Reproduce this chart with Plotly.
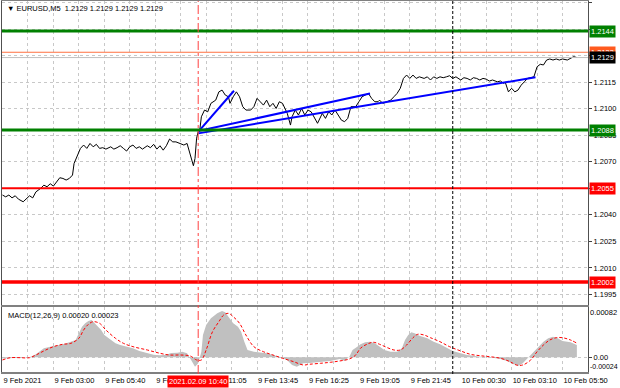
import plotly.graph_objects as go

# ---------------- data ----------------
symbol_title = "▼ EURUSD,M5  1.2129 1.2129 1.2129 1.2129"
macd_title = "MACD(12,26,9) 0.00020 0.00023"

bar_idx = [0, 2, 4, 6, 8, 10, 13, 15, 17, 19,
           21, 24, 26, 28, 30, 32, 34, 36, 38, 40,
           42, 44, 45, 47, 49, 51, 53, 55, 57, 59,
           61, 63, 65, 68, 70, 72, 74, 76, 78, 80,
           82, 84, 86, 88, 91, 93, 95, 97, 99, 101,
           103, 105, 107, 109, 112, 114, 116, 118, 120, 121,
           122, 123, 124, 125, 127, 129, 131, 134, 136, 138,
           140, 142, 143, 145, 147, 149, 151, 153, 156, 158,
           160, 162, 164, 166, 168, 170, 172, 174, 176, 179,
           181, 182, 184, 186, 188, 190, 192, 194, 196, 198,
           201, 203, 205, 207, 209, 211, 213, 215, 217, 219,
           222, 224, 226, 228, 230, 232, 234, 236, 237, 239,
           241, 244, 246, 248, 250, 252, 254, 256, 258, 260,
           262, 265, 267, 269, 271, 273, 275, 277, 279, 281,
           283, 285, 288, 290, 292, 294, 296, 298, 300, 302,
           304, 306, 308, 311, 313, 315, 316, 318, 320, 322,
           324, 326, 328, 330, 334, 336, 338, 340, 342, 344,
           346, 348, 350, 352, 355, 357, 359, 361]

close = [1.20512, 1.20502, 1.20512, 1.20496, 1.20508, 1.20489, 1.20474, 1.20489, 1.20508, 1.20496,
         1.20530, 1.20550, 1.20568, 1.20559, 1.20576, 1.20563, 1.20587, 1.20610, 1.20606, 1.20597,
         1.20606, 1.20625, 1.20691, 1.20729, 1.20776, 1.20795, 1.20776, 1.20804, 1.20785, 1.20799,
         1.20776, 1.20780, 1.20772, 1.20785, 1.20772, 1.20780, 1.20791, 1.20776, 1.20761, 1.20785,
         1.20795, 1.20776, 1.20785, 1.20772, 1.20791, 1.20780, 1.20799, 1.20772, 1.20791, 1.20766,
         1.20791, 1.20829, 1.20813, 1.20813, 1.20804, 1.20795, 1.20804, 1.20738, 1.20678, 1.20719,
         1.20834, 1.20870, 1.20880, 1.20955, 1.20993, 1.20983, 1.21031, 1.21049, 1.21096, 1.21106,
         1.21078, 1.21068, 1.21031, 1.21068, 1.21096, 1.21068, 1.21012, 1.20993, 1.20993, 1.21012,
         1.21059, 1.21040, 1.21021, 1.21049, 1.21012, 1.21031, 1.21002, 1.21040, 1.21031, 1.20974,
         1.20908, 1.20955, 1.20993, 1.20965, 1.21002, 1.20965, 1.20993, 1.20983, 1.20946, 1.20918,
         1.20974, 1.20946, 1.20983, 1.20965, 1.20993, 1.20965, 1.20936, 1.20927, 1.20946, 1.21012,
         1.21012, 1.21040, 1.21068, 1.21078, 1.21087, 1.21059, 1.21040, 1.21040, 1.21049, 1.21031,
         1.21040, 1.21049, 1.21068, 1.21087, 1.21116, 1.21172, 1.21191, 1.21172, 1.21191, 1.21172,
         1.21181, 1.21172, 1.21181, 1.21163, 1.21181, 1.21172, 1.21181, 1.21176, 1.21181, 1.21187,
         1.21172, 1.21181, 1.21163, 1.21176, 1.21172, 1.21163, 1.21176, 1.21172, 1.21163, 1.21172,
         1.21168, 1.21157, 1.21163, 1.21153, 1.21157, 1.21144, 1.21150, 1.21096, 1.21116, 1.21096,
         1.21106, 1.21134, 1.21153, 1.21172, 1.21181, 1.21238, 1.21252, 1.21248, 1.21276, 1.21282,
         1.21276, 1.21282, 1.21276, 1.21282, 1.21276, 1.21286, 1.21295, 1.21290]

hist_bars = [0, 11, 17, 21, 26, 30, 34, 38, 42, 46,
             48, 50, 52, 54, 56, 58, 60, 62, 64, 68,
             71, 74, 78, 82, 86, 91, 95, 99, 103, 106,
             110, 113, 116, 118, 120, 121, 123, 125, 126, 128,
             131, 135, 138, 140, 142, 145, 148, 150, 152, 154,
             158, 162, 166, 170, 174, 179, 182, 185, 189, 193,
             200, 206, 212, 215, 218, 220, 223, 225, 228, 231,
             234, 237, 240, 244, 248, 251, 253, 255, 257, 259,
             262, 267, 271, 275, 279, 283, 288, 292, 296, 300,
             304, 308, 313, 317, 321, 324, 327, 330, 334, 337,
             340, 343, 346, 349, 352, 357, 361]
hist_vals = [-2e-5, -1e-5, 0.0, 4.9e-5, 14.7e-5, 17.3e-5, 18.9e-5, 21.2e-5, 24.5e-5, 28.2e-5,
             39.1e-5, 49.9e-5, 55.4e-5, 59.2e-5, 60.8e-5, 55.4e-5, 49.9e-5, 44.5e-5, 36.3e-5, 28.2e-5,
             22.8e-5, 20.0e-5, 17.3e-5, 14.7e-5, 10.3e-5, 7.0e-5, 4.2e-5, 3.3e-5, 4.2e-5, 7.0e-5,
             7.5e-5, 9.1e-5, 6.5e-5, -2.1e-5, -12.6e-5, -15.3e-5, -9.8e-5, 9.1e-5, 36.3e-5, 52.6e-5,
             63.6e-5, 71.7e-5, 75.5e-5, 73.4e-5, 66.2e-5, 55.4e-5, 49.9e-5, 41.7e-5, 25.4e-5, 11.9e-5,
             9.1e-5, 8.2e-5, 6.5e-5, 3.7e-5, 1.0e-5, -4.9e-5, -12.6e-5, -15.3e-5, -9.8e-5, -9.5e-5,
             -8.2e-5, -6.0e-5, -2.8e-5, -6.0e-5, 1.0e-5, 11.9e-5, 17.3e-5, 21.2e-5, 24.5e-5, 25.4e-5,
             22.8e-5, 17.3e-5, 11.9e-5, 9.1e-5, 9.1e-5, 14.7e-5, 28.2e-5, 36.3e-5, 40.8e-5, 39.1e-5,
             35.2e-5, 31.0e-5, 25.4e-5, 21.2e-5, 15.6e-5, 10.3e-5, 6.5e-5, 3.7e-5, 2.6e-5, 1.0e-5,
             1.0e-5, -0.7e-5, -2.8e-5, -6.0e-5, -11.4e-5, -14.2e-5, -9.8e-5, -1.6e-5, 9.1e-5, 17.3e-5,
             25.4e-5, 31.0e-5, 33.6e-5, 31.0e-5, 26.6e-5, 24.5e-5, 20.0e-5]

signal_bars = [0, 5, 11, 17, 21, 26, 32, 38, 43, 48,
               51, 54, 57, 61, 65, 71, 76, 82, 91, 99,
               105, 112, 118, 122, 125, 128, 132, 136, 139, 142,
               145, 149, 153, 158, 164, 170, 176, 183, 189, 193,
               200, 206, 212, 218, 222, 225, 229, 233, 237, 242,
               246, 250, 254, 258, 261, 265, 269, 275, 281, 288,
               294, 300, 306, 313, 319, 323, 327, 332, 336, 340,
               344, 348, 352, 357, 361]
signal_vals = [-4.4e-5, -0.7e-5, -0.7e-5, -0.7e-5, 3.7e-5, 10.3e-5, 17.3e-5, 21.2e-5, 22.8e-5, 31.0e-5,
               44.5e-5, 53.8e-5, 58.0e-5, 55.4e-5, 44.5e-5, 31.0e-5, 22.8e-5, 17.3e-5, 11.9e-5, 6.5e-5,
               3.7e-5, 3.7e-5, 2.1e-5, -4.4e-5, -4.4e-5, 11.9e-5, 41.7e-5, 58.0e-5, 68.9e-5, 71.7e-5,
               66.2e-5, 55.4e-5, 36.3e-5, 17.3e-5, 9.1e-5, 3.7e-5, -1.6e-5, -7.2e-5, -12.6e-5, -11.4e-5,
               -9.8e-5, -8.2e-5, -6.0e-5, -2.8e-5, 3.7e-5, 14.7e-5, 21.2e-5, 24.5e-5, 21.2e-5, 15.6e-5,
               11.9e-5, 11.9e-5, 20.0e-5, 31.9e-5, 37.5e-5, 36.3e-5, 31.9e-5, 25.4e-5, 17.3e-5, 10.3e-5,
               4.9e-5, 2.6e-5, 1.0e-5, -1.6e-5, -7.2e-5, -12.6e-5, -12.6e-5, -4.4e-5, 9.1e-5, 20.0e-5,
               28.2e-5, 31.9e-5, 31.9e-5, 28.2e-5, 23.0e-5]

# trend lines: (start bar, end bar), (start price, end price)
trend_bars = [[123, 145.5], [123, 231], [123, 335]]
trend_prices = [[1.20870, 1.21102], [1.20874, 1.21087], [1.20861, 1.21178]]

# horizontal levels
green_levels = [1.2144, 1.2088]
red_levels = [1.2055, 1.2002]
red_widths = [2, 3.5]
orange_level = 1.2132
bid_level = 1.2129

# time axis labels (every 32 bars) and grid every 16 bars
label_bars = [0, 32, 64, 96, 128, 160, 192, 224, 256, 288, 320, 352]
label_text = ["9 Feb 2021", "9 Feb 03:00", "9 Feb 05:40", "9 Feb 08:20", "9 Feb 11:05",
              "9 Feb 13:45", "9 Feb 16:25", "9 Feb 19:05", "9 Feb 21:45", "10 Feb 00:30",
              "10 Feb 03:10", "10 Feb 05:50"]
price_ticks = [1.1995, 1.2010, 1.2025, 1.2040, 1.2055, 1.2070, 1.2085,
               1.2100, 1.2115, 1.2130, 1.2145, 1.2160]
# tick labels hidden under the level boxes in the terminal
hidden_ticks = [1.2055, 1.2130, 1.2145]
macd_max, macd_min = 0.00082, -0.00024
macd_max_text, macd_min_text = "0.00082", "-0.00024"

cursor_bar = 123
cursor_label = "2021.02.09 10:40"
day_sep_bar = 283

# ---------------- figure ----------------
FONT = "Liberation Sans"
FS = 7.5
GRID = "#c8c8c8"

grid_bars = list(range(0, 369, 16))
grid_text = []
for b in grid_bars:
    grid_text.append(label_text[label_bars.index(b)] if b in label_bars else "")
price_text = ["" if v in hidden_ticks else f"{v:.4f}" for v in price_ticks]

fig = go.Figure()

fig.add_trace(go.Scatter(x=hist_bars, y=hist_vals, mode="lines", fill="tozeroy",
                         fillcolor="#c0c0c0", line=dict(width=0, color="#c0c0c0"),
                         xaxis="x2", yaxis="y2", hoverinfo="skip"))
fig.add_trace(go.Scatter(x=signal_bars, y=signal_vals, mode="lines",
                         line=dict(color="#ff0000", width=1, dash="3px,2px", shape="spline"),
                         xaxis="x2", yaxis="y2", hoverinfo="skip"))

fig.add_trace(go.Scatter(x=bar_idx, y=close, mode="lines",
                         line=dict(color="#000000", width=1), hoverinfo="skip"))
for bx, py in zip(trend_bars, trend_prices):
    fig.add_trace(go.Scatter(x=bx, y=py, mode="lines",
                             line=dict(color="#0000ff", width=2), hoverinfo="skip"))

shapes = []
for lv in green_levels:
    shapes.append(dict(type="line", xref="x domain", yref="y", x0=0, x1=1, y0=lv, y1=lv,
                       line=dict(color="#008000", width=3)))
for lv, w in zip(red_levels, red_widths):
    shapes.append(dict(type="line", xref="x domain", yref="y", x0=0, x1=1, y0=lv, y1=lv,
                       line=dict(color="#ff0000", width=w)))
shapes.append(dict(type="line", xref="x domain", yref="y", x0=0, x1=1, y0=orange_level,
                   y1=orange_level, line=dict(color="#ff7040", width=1)))
shapes.append(dict(type="line", xref="x domain", yref="y", x0=0, x1=1, y0=bid_level,
                   y1=bid_level, line=dict(color="#c0c0c0", width=1)))
shapes.append(dict(type="line", xref="x", yref="paper", x0=cursor_bar, x1=cursor_bar, y0=0, y1=1,
                   line=dict(color="#ff4040", width=1, dash="dashdot")))
shapes.append(dict(type="line", xref="x", yref="paper", x0=day_sep_bar, x1=day_sep_bar, y0=0, y1=1,
                   line=dict(color="#000000", width=1, dash="3px,2px")))

annotations = [
    dict(text=symbol_title, xref="paper", yref="paper", x=0, y=1, xanchor="left", yanchor="top",
         xshift=3, yshift=-1, showarrow=False, font=dict(family=FONT, size=FS, color="black")),
    dict(text=macd_title, xref="paper", yref="y2 domain", x=0, y=1, xanchor="left", yanchor="top",
         xshift=4, yshift=-2, showarrow=False, font=dict(family=FONT, size=FS, color="black")),
    dict(text=cursor_label, xref="x", yref="paper", x=cursor_bar, y=0, xanchor="center",
         yanchor="top", yshift=-1, showarrow=False, bgcolor="#ff0000", borderpad=1,
         font=dict(family=FONT, size=FS, color="white")),
    # MACD window max / min labels (drawn just inside the window edges, as in the terminal)
    dict(text=macd_max_text, xref="paper", yref="y2 domain", x=1, y=1, xanchor="left",
         yanchor="top", xshift=1, borderpad=0, showarrow=False,
         font=dict(family=FONT, size=FS, color="black")),
    dict(text=macd_min_text, xref="paper", yref="y2 domain", x=1, y=0.09, xanchor="left",
         yanchor="middle", xshift=1, borderpad=0, showarrow=False,
         font=dict(family=FONT, size=7, color="black")),
]

def price_box(v, bg):
    return dict(text=f"{v:.4f}", xref="paper", yref="y", x=1, y=v, xanchor="left", yanchor="middle",
                xshift=1, showarrow=False, bgcolor=bg, borderpad=1,
                font=dict(family=FONT, size=FS, color="white"))

for lv in green_levels:
    annotations.append(price_box(lv, "#008000"))
for lv in red_levels:
    annotations.append(price_box(lv, "#ff0000"))
annotations.append(price_box(orange_level, "#ff5a1e"))
annotations.append(price_box(bid_level, "#000000"))

axis_common = dict(showgrid=True, gridcolor=GRID, griddash="3px,3px", gridwidth=1,
                   zeroline=False, automargin=False, fixedrange=True)

fig.update_layout(
    width=620, height=388,
    margin=dict(l=2, r=32, t=1, b=14),
    paper_bgcolor="white", plot_bgcolor="white",
    showlegend=False,
    font=dict(family=FONT, size=FS, color="black"),
    shapes=shapes,
    annotations=annotations,
    xaxis=dict(domain=[0, 1], anchor="y", range=[-0.31, 368], tickmode="array",
               tickvals=grid_bars, showticklabels=False, ticks="",
               showline=True, mirror=True, linecolor="#808080", linewidth=2, **axis_common),
    yaxis=dict(domain=[0.185, 1], anchor="x", side="right", range=[1.19890, 1.21610],
               tickmode="array", tickvals=price_ticks, ticktext=price_text,
               ticks="outside", ticklen=3, tickcolor="#404040",
               tickfont=dict(family=FONT, size=FS, color="black"),
               showline=True, mirror=True, linecolor="#505050", linewidth=1, **axis_common),
    xaxis2=dict(domain=[0, 1], anchor="y2", matches="x", range=[-0.31, 368], tickmode="array",
                tickvals=grid_bars, ticktext=grid_text, ticklabelposition="outside right",
                tickangle=0, ticks="", tickfont=dict(family=FONT, size=FS, color="black"),
                showline=True, mirror=True, linecolor="#808080", linewidth=2, **axis_common),
    yaxis2=dict(domain=[0.0054, 0.1796], anchor="x2", side="right", range=[macd_min, macd_max],
                tickmode="array", tickvals=[0], ticktext=["0.00"],
                ticks="outside", ticklen=3, tickcolor="#404040",
                tickfont=dict(family=FONT, size=FS, color="black"),
                showline=True, mirror=True, linecolor="#505050", linewidth=1, **axis_common),
)

fig.write_html("out.html")
